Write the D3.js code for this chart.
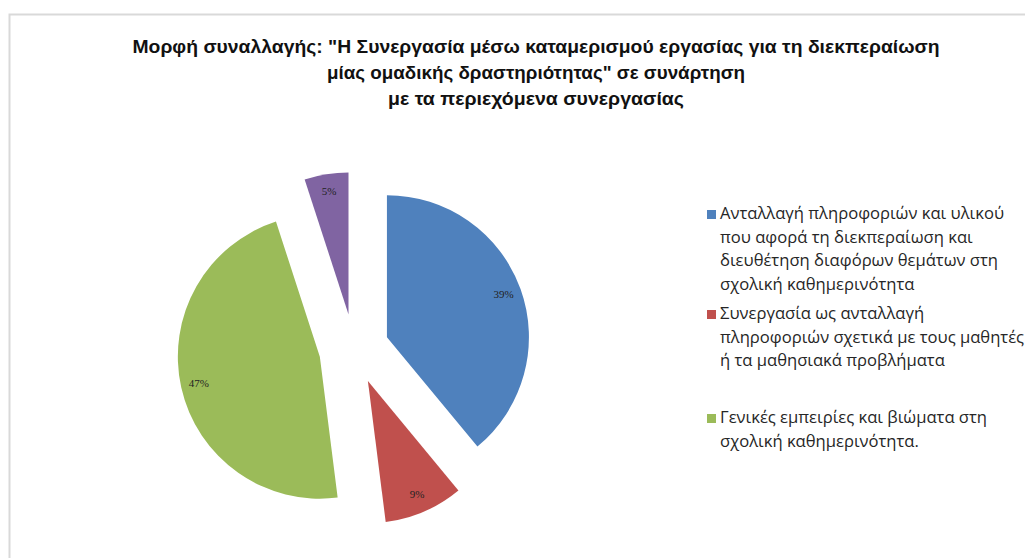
<!DOCTYPE html>
<html>
<head>
<meta charset="utf-8">
<script src="https://cdn.jsdelivr.net/npm/d3@7/dist/d3.min.js"></script>
<style>
  html, body { margin: 0; padding: 0; background: #fff; overflow: hidden; }
</style>
</head>
<body>
<svg id="chart" width="1025" height="558"></svg>
<script>
// Chart data
const titleLines = [
  'Μορφή συναλλαγής: "Η Συνεργασία μέσω καταμερισμού εργασίας για τη διεκπεραίωση',
  'μίας ομαδικής δραστηριότητας" σε συνάρτηση',
  'με τα περιεχόμενα συνεργασίας'
];
const categories = [
  "Ανταλλαγή πληροφοριών και υλικού που αφορά τη διεκπεραίωση και διευθέτηση διαφόρων θεμάτων στη σχολική καθημερινότητα",
  "Συνεργασία ως ανταλλαγή πληροφοριών σχετικά με τους μαθητές ή τα μαθησιακά προβλήματα",
  "Γενικές εμπειρίες και βιώματα στη σχολική  καθημερινότητα.",
  "Άλλο"
];
const values = [39, 9, 47, 5];
const colors = ["#4F81BD", "#C0504D", "#9BBB59", "#8064A2"];
// Legend lines as wrapped in the legend box (last category has no legend entry)
const legendLines = [
  ["Ανταλλαγή πληροφοριών και υλικού", "που αφορά τη διεκπεραίωση και", "διευθέτηση διαφόρων θεμάτων στη", "σχολική καθημερινότητα"],
  ["Συνεργασία ως ανταλλαγή", "πληροφοριών σχετικά με τους μαθητές", "ή τα μαθησιακά προβλήματα"],
  ["Γενικές εμπειρίες και βιώματα στη", "σχολική  καθημερινότητα."]
];

const svg = d3.select("#chart");

// Chart area frame
svg.append("rect")
  .attr("x", 9.5).attr("y", 14.5)
  .attr("width", 1100).attr("height", 600)
  .attr("fill", "#fff")
  .attr("stroke", "#d9d9d9")
  .attr("stroke-width", 2);

// Title (condensed bold lines)
const titleY = [53, 79, 105];
const titleW = [807, 418, 296];
svg.append("g").selectAll("text")
  .data(titleLines)
  .join("text")
  .attr("x", 536)
  .attr("y", (d, i) => titleY[i])
  .attr("text-anchor", "middle")
  .attr("font-family", "'Liberation Sans', Arial, sans-serif")
  .attr("font-weight", "bold")
  .attr("font-size", 19)
  .attr("fill", "#111")
  .attr("textLength", (d, i) => titleW[i])
  .attr("lengthAdjust", "spacingAndGlyphs")
  .text(d => d);

// Exploded pie
const cx = 354, cy = 349, radius = 142, explode = 35, labelR = 124;
const pie = d3.pie().sort(null).value(d => d)(values);
const arc = d3.arc().innerRadius(0).outerRadius(radius);
const labelArc = d3.arc().innerRadius(labelR).outerRadius(labelR);

const slices = svg.append("g")
  .attr("transform", `translate(${cx},${cy})`)
  .selectAll("g")
  .data(pie)
  .join("g")
  .attr("transform", d => {
    const a = (d.startAngle + d.endAngle) / 2;
    return `translate(${explode * Math.sin(a)},${-explode * Math.cos(a)})`;
  });

slices.append("path")
  .attr("d", arc)
  .attr("fill", (d, i) => colors[i]);

slices.append("text")
  .attr("transform", d => `translate(${labelArc.centroid(d)})`)
  .attr("text-anchor", "middle")
  .attr("dy", "0.3em")
  .attr("font-family", "'Liberation Serif', 'Times New Roman', serif")
  .attr("font-size", 11)
  .attr("fill", "#222")
  .text(d => d.data + "%");

// Legend
const legendX = 707;
const legendTop = [219, 319, 423];
const lineH = 23.5;
const legend = svg.append("g")
  .selectAll("g")
  .data(legendLines)
  .join("g")
  .attr("transform", (d, i) => `translate(${legendX},${legendTop[i]})`);

legend.append("rect")
  .attr("x", 0).attr("y", -9)
  .attr("width", 9).attr("height", 9)
  .attr("fill", (d, i) => colors[i]);

legend.append("text")
  .attr("font-family", "'Open Sans', 'Noto Sans', sans-serif")
  .attr("font-size", 16.6)
  .attr("fill", "#262626")
  .selectAll("tspan")
  .data(d => d)
  .join("tspan")
  .attr("x", 13)
  .attr("y", (d, j) => j * lineH)
  .text(d => d);
</script>
</body>
</html>
